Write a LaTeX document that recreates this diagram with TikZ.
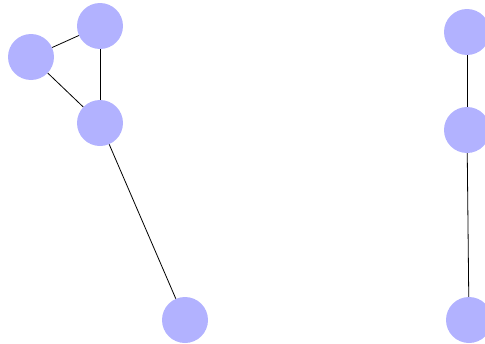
\documentclass[tikz,border=0pt]{standalone}
\usepackage[dvipsnames]{xcolor}

\tikzset{
	vertex/.style={circle,minimum size=46pt,inner sep=0pt,fill=blue!30,draw=none},
	link/.style={draw=black,line width=0.8pt}
}

\begin{document}
\begin{tikzpicture}[x=1pt,y=-1pt]
					\useasboundingbox (0,0) rectangle (485,343);
					% left group
					\node (left1)[vertex] at (31,57){};
					\node (left2)[vertex] at (100,26){};
					\node (left3)[vertex] at (100,123){};
					\node (left4)[vertex] at (185,320){};
					% right group
					\node (right1)[vertex] at (467,32){};
					\node (right2)[vertex] at (467,130){};
					\node (right3)[vertex] at (469,320){};
					\draw[link] (left1) -- (left2);
					\draw[link] (left1) -- (left3);
					\draw[link] (left2) -- (left3);
					\draw[link] (left3) -- (left4);
					\draw[link] (right1) -- (right2);
					\draw[link] (right2) -- (right3);
				\end{tikzpicture}
\end{document}
